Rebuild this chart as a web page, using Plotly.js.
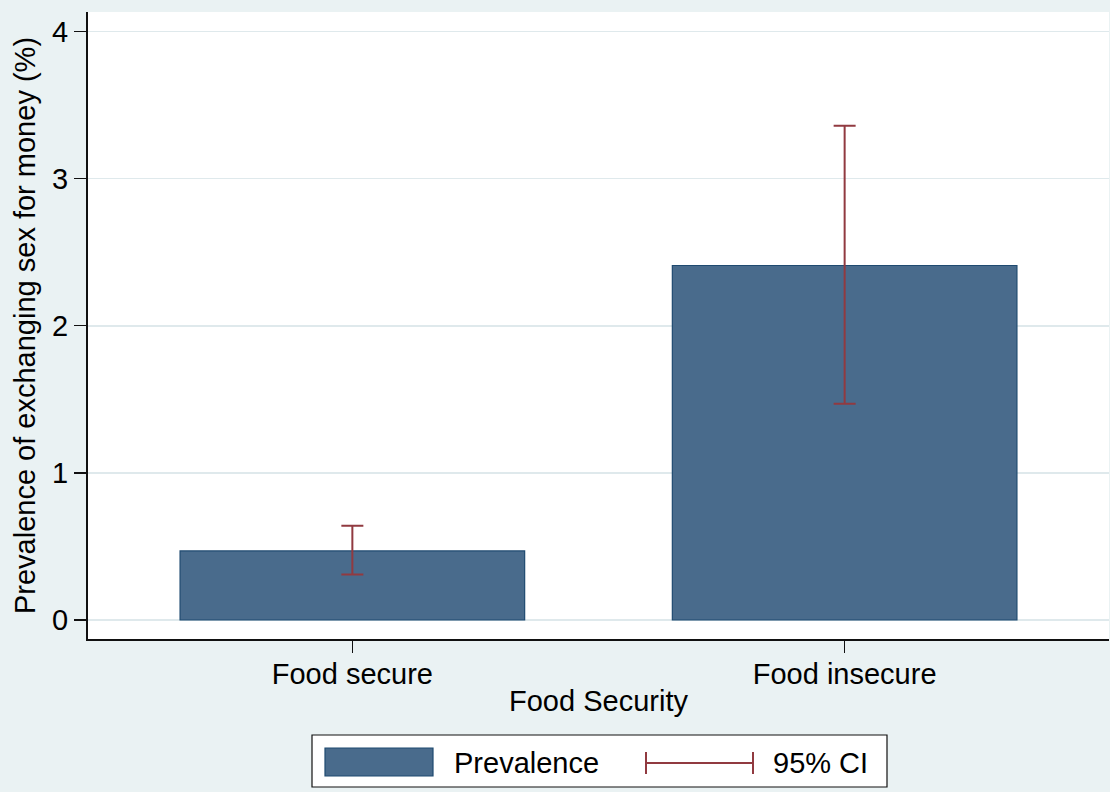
<!DOCTYPE html>
<html>
<head>
<meta charset="utf-8">
<script src="https://cdn.plot.ly/plotly-3.0.1.min.js"></script>
<style>html,body{margin:0;padding:0;background:#eaf2f3;}#chart{width:1110px;height:792px;}</style>
</head>
<body>
<div id="chart"></div>
<script>
// Data
const categories = ["Food secure", "Food insecure"];
const prevalence = [0.47, 2.41];
const ciLower = [0.31, 1.47];
const ciUpper = [0.64, 3.36];
const yTicks = [0, 1, 2, 3, 4];
const seriesNames = ["Prevalence", "95% CI"];

const W = 1110, H = 792;
const M = {l: 88, r: 1, t: 12, b: 153};
const PW = W - M.l - M.r, PH = H - M.t - M.b;
const px = x => (x - M.l) / PW;
const py = y => (H - M.b - y) / PH;

const barColor = "#496b8c", barLine = "#1f4a70", ciColor = "#913a40";
const FONT = "Liberation Sans, Arial, sans-serif";

const xIdx = categories.map((c, i) => i);

const trace = {
  type: "bar",
  x: xIdx,
  y: prevalence,
  width: 0.7,
  marker: {color: barColor, line: {color: barLine, width: 1.2}},
  error_y: {
    type: "data",
    symmetric: false,
    array: prevalence.map((v, i) => ciUpper[i] - v),
    arrayminus: prevalence.map((v, i) => v - ciLower[i]),
    color: ciColor,
    thickness: 2,
    width: 11,
    visible: true
  },
  hoverinfo: "skip",
  showlegend: false
};

// Custom legend (box, swatch, CI symbol, labels)
const lg = {x0: 312, x1: 887, y0: 735, y1: 787};
const shapes = [
  {type: "rect", xref: "paper", yref: "paper", x0: px(lg.x0), x1: px(lg.x1), y0: py(lg.y1), y1: py(lg.y0),
   fillcolor: "white", line: {color: "#111", width: 1.2}},
  {type: "rect", xref: "paper", yref: "paper", x0: px(325), x1: px(433), y0: py(776), y1: py(748),
   fillcolor: barColor, line: {color: barLine, width: 1.2}},
  {type: "line", xref: "paper", yref: "paper", x0: px(646), x1: px(753), y0: py(763), y1: py(763),
   line: {color: ciColor, width: 2}},
  {type: "line", xref: "paper", yref: "paper", x0: px(646), x1: px(646), y0: py(752), y1: py(774),
   line: {color: ciColor, width: 2}},
  {type: "line", xref: "paper", yref: "paper", x0: px(753), x1: px(753), y0: py(752), y1: py(774),
   line: {color: ciColor, width: 2}}
];
const annotations = [
  {xref: "paper", yref: "paper", x: px(452), y: py(763), xanchor: "left", yanchor: "middle",
   text: seriesNames[0], showarrow: false, font: {family: FONT, size: 29, color: "#000"}},
  {xref: "paper", yref: "paper", x: px(771), y: py(763), xanchor: "left", yanchor: "middle",
   text: seriesNames[1], showarrow: false, font: {family: FONT, size: 29, color: "#000"}}
];

const layout = {
  width: W, height: H,
  margin: M,
  paper_bgcolor: "#eaf2f3",
  plot_bgcolor: "#ffffff",
  font: {family: FONT, size: 29, color: "#000"},
  bargap: 0.3,
  xaxis: {
    range: [-0.537, 1.537],
    tickvals: xIdx,
    ticktext: categories,
    ticks: "outside", ticklen: 12, tickwidth: 1.2, tickcolor: "#111",
    ticklabelstandoff: -4,
    showline: true, linecolor: "#111", linewidth: 2,
    showgrid: false, zeroline: false,
    tickfont: {family: FONT, size: 29, color: "#000"},
    title: {text: "Food Security", standoff: 2, font: {family: FONT, size: 29, color: "#000"}},
    fixedrange: true
  },
  yaxis: {
    range: [-0.129, 4.133],
    tickvals: yTicks,
    ticktext: yTicks.map(String),
    ticks: "outside", ticklen: 12, tickwidth: 1.2, tickcolor: "#111",
    showline: true, linecolor: "#111", linewidth: 2,
    showgrid: true, gridcolor: "#dfe9ec", gridwidth: 1.5,
    zeroline: false,
    tickfont: {family: FONT, size: 29, color: "#000"},
    title: {text: "Prevalence of exchanging sex for money (%)", standoff: 8, font: {family: FONT, size: 29, color: "#000"}},
    fixedrange: true
  },
  shapes: shapes,
  annotations: annotations,
  showlegend: false
};

Plotly.newPlot("chart", [trace], layout, {displayModeBar: false, staticPlot: true});
</script>
</body>
</html>
